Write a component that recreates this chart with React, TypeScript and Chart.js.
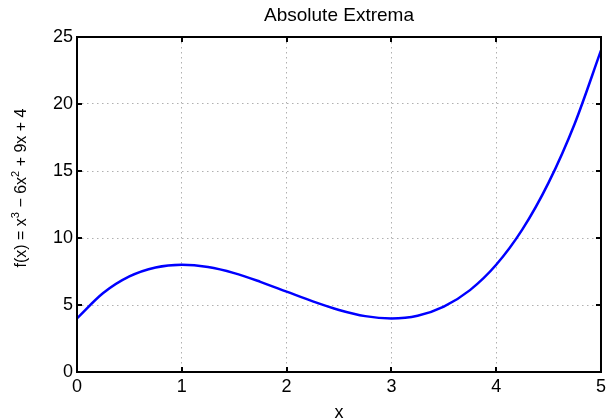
import React, { useEffect, useRef } from "react";
import { Chart, registerables } from "chart.js";

Chart.register(...registerables);

const xValues = [0, 0.25, 0.5, 0.75, 1, 1.25, 1.5, 1.75, 2, 2.25, 2.5, 2.75, 3, 3.25, 3.5, 3.75, 4, 4.25, 4.5, 4.75, 5];
const yValues = [4, 5.89, 7.13, 7.8, 8, 7.83, 7.38, 6.73, 6, 5.27, 4.63, 4.17, 4, 4.2, 4.88, 6.11, 8, 10.64, 14.13, 18.55, 24];
const xTicks = [0, 1, 2, 3, 4, 5];
const yTicks = [0, 5, 10, 15, 20, 25];
const titleText = "Absolute Extrema";
const xLabel = "x";
const yLabelParts: [string, boolean][] = [
  ["f(x) = x", false],
  ["3", true],
  [" \u2212 6x", false],
  ["2", true],
  [" + 9x + 4", false],
];

const FONT = '"Liberation Sans", Arial, Helvetica, sans-serif';

const decorPlugin = {
  id: "decor",
  afterDraw(chart: any) {
    const { ctx, chartArea } = chart;
    const { left, right, top, bottom } = chartArea;
    const xs = chart.scales.x;
    const ys = chart.scales.y;
    ctx.save();
    ctx.strokeStyle = "#000";
    ctx.lineWidth = 2;
    const tl = 5;
    ctx.beginPath();
    for (const v of xTicks) {
      const px = Math.round(xs.getPixelForValue(v));
      ctx.moveTo(px, bottom);
      ctx.lineTo(px, bottom - tl);
      ctx.moveTo(px, top);
      ctx.lineTo(px, top + tl);
    }
    for (const v of yTicks) {
      const py = Math.round(ys.getPixelForValue(v));
      ctx.moveTo(left, py);
      ctx.lineTo(left + tl, py);
      ctx.moveTo(right, py);
      ctx.lineTo(right - tl, py);
    }
    ctx.stroke();
    ctx.lineWidth = 2;
    ctx.strokeRect(left, top, right - left, bottom - top);
    ctx.fillStyle = "#000";
    ctx.textAlign = "center";
    ctx.textBaseline = "alphabetic";
    ctx.font = `19px ${FONT}`;
    ctx.fillText(titleText, (left + right) / 2, 21);
    ctx.font = `18px ${FONT}`;
    ctx.fillText(xLabel, (left + right) / 2, 418);
    const normal = `16px ${FONT}`;
    const sup = `11px ${FONT}`;
    let total = 0;
    const widths: number[] = [];
    for (const [t, s] of yLabelParts) {
      ctx.font = s ? sup : normal;
      const w = ctx.measureText(t).width;
      widths.push(w);
      total += w;
    }
    ctx.translate(26, 188);
    ctx.rotate(-Math.PI / 2);
    ctx.textAlign = "left";
    let x = -total / 2;
    yLabelParts.forEach(([t, s], i) => {
      ctx.font = s ? sup : normal;
      ctx.fillText(t, x, s ? -7 : 0);
      x += widths[i];
    });
    ctx.restore();
  },
};

export default function App() {
  const ref = useRef<HTMLCanvasElement>(null);
  useEffect(() => {
    if (!ref.current) return;
    const chart = new Chart(ref.current, {
      type: "line",
      data: {
        datasets: [
          {
            data: xValues.map((x, i) => ({ x, y: yValues[i] })),
            borderColor: "#0000ff",
            borderWidth: 2.5,
            pointRadius: 0,
            cubicInterpolationMode: "monotone",
            fill: false,
          },
        ],
      },
      options: {
        responsive: false,
        animation: false,
        layout: { padding: { top: 37, right: 5, left: 0, bottom: 0 } },
        plugins: { legend: { display: false }, tooltip: { enabled: false }, title: { display: false } },
        scales: {
          x: {
            type: "linear",
            min: 0,
            max: 5,
            afterBuildTicks: (s: any) => {
              s.ticks = xTicks.map((v) => ({ value: v }));
            },
            afterFit: (s: any) => {
              s.height = 46;
            },
            ticks: { color: "#000", font: { family: FONT, size: 18 }, padding: 4, maxRotation: 0 },
            grid: { color: "#b0b0b0", lineWidth: 1, drawTicks: false },
            border: { display: false, dash: [1.5, 3.5] },
          },
          y: {
            type: "linear",
            min: 0,
            max: 25,
            afterBuildTicks: (s: any) => {
              s.ticks = yTicks.map((v) => ({ value: v }));
            },
            afterFit: (s: any) => {
              s.width = 77;
            },
            ticks: { color: "#000", font: { family: FONT, size: 18 }, padding: 4 },
            grid: { color: "#b0b0b0", lineWidth: 1, drawTicks: false },
            border: { display: false, dash: [1.5, 3.5] },
          },
        },
      },
      plugins: [decorPlugin],
    });
    return () => chart.destroy();
  }, []);
  return (
    <div style={{ position: "absolute", left: 0, top: 0, width: 610, height: 418 }}>
      <canvas ref={ref} width={610} height={418} />
    </div>
  );
}
